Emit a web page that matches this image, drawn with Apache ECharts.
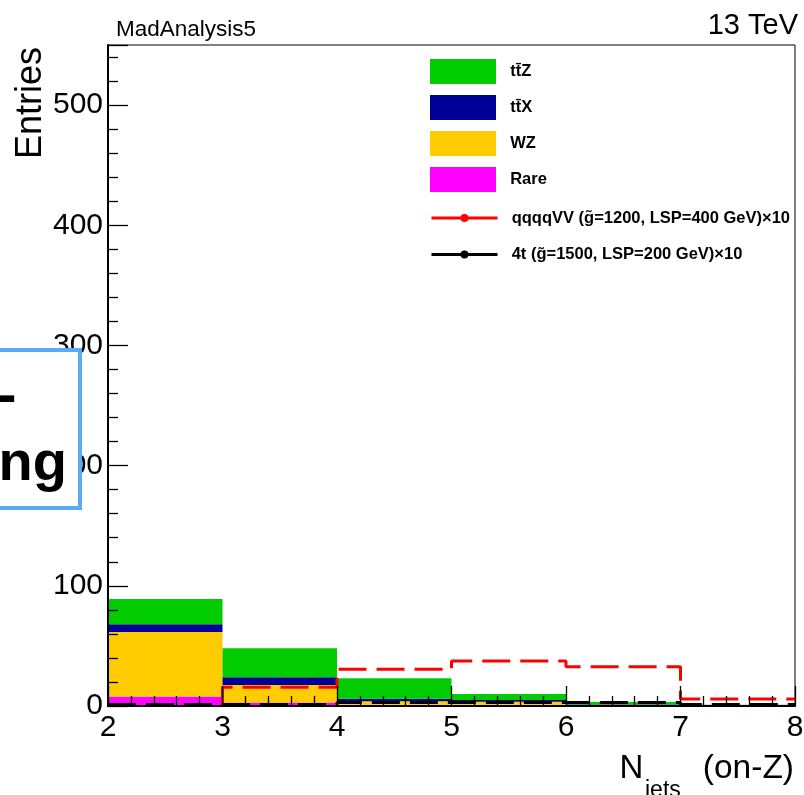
<!DOCTYPE html>
<html>
<head>
<meta charset="utf-8">
<script src="https://cdn.jsdelivr.net/npm/echarts@6/dist/echarts.min.js"></script>
<style>
  html, body { margin: 0; padding: 0; background: #fff; }
  #chart { width: 804px; height: 795px; }
</style>
</head>
<body>
<div id="chart"></div>
<script>
// bin edges of the N_jets histogram
const binEdges = [2, 3, 4, 5, 6, 7, 8];

// backgrounds (stacked, bottom to top)
const rare = [8, 3, 1, 1, 0.3, 0.1];
const wz = [53.5, 14.5, 3, 2.5, 0.7, 0.2];
const ttx = [6.5, 6.5, 2, 1.5, 0.5, 0.2];
const ttz = [21, 24, 17, 5, 1.8, 0.5];

// signals (x10)
const qqqqvv = [1, 15.5, 30.5, 37.4, 32.7, 5.8];
const fourTop = [1.2, 1.2, 3, 3, 3, 1.3];

const yTicks = [0, 100, 200, 300, 400, 500];

const FONT = "'Liberation Sans', Arial, Helvetica, sans-serif";

const names = {
  ttz: "tt\u0304Z",
  ttx: "tt\u0304X",
  wz: "WZ",
  rare: "Rare",
  sig1: "qqqqVV (g\u0303=1200, LSP=400 GeV)\u00d710",
  sig2: "4t (g\u0303=1500, LSP=200 GeV)\u00d710"
};

function addArr(a, b) {
  return a.map((v, i) => v + b[i]);
}

const topRare = rare;
const topWz = addArr(topRare, wz);
const topTtx = addArr(topWz, ttx);
const topTtz = addArr(topTtx, ttz);

function histSeries(name, color, lower, upper) {
  const data = upper.map((u, i) => [binEdges[i], binEdges[i + 1], lower[i], u]);
  return {
    name: name,
    type: "custom",
    z: 2,
    itemStyle: { color: color },
    encode: { x: [0, 1], y: [2, 3] },
    renderItem: function (params, api) {
      const p0 = api.coord([api.value(0), api.value(2)]);
      const p1 = api.coord([api.value(1), api.value(3)]);
      return {
        type: "rect",
        shape: { x: p0[0], y: p1[1], width: p1[0] - p0[0], height: p0[1] - p1[1] },
        style: { fill: color }
      };
    },
    data: data
  };
}

function stepData(vals) {
  const d = vals.map((v, i) => [binEdges[i], v]);
  d.push([binEdges[binEdges.length - 1], vals[vals.length - 1]]);
  return d;
}

function stepSeries(name, color, vals) {
  return {
    name: name,
    type: "line",
    step: "end",
    z: 5,
    symbol: "circle",
    showSymbol: false,
    lineStyle: { color: color, width: 3, type: [28, 10] },
    itemStyle: { color: color },
    data: stepData(vals)
  };
}

const chart = echarts.init(document.getElementById("chart"));

chart.setOption({
  animation: false,
  backgroundColor: "#fff",
  title: [
    {
      text: "MadAnalysis5",
      left: 116,
      top: 18,
      padding: 0,
      textStyle: { fontFamily: FONT, fontSize: 22.5, fontWeight: "normal", color: "#000" }
    },
    {
      text: "13 TeV",
      right: 6,
      top: 11,
      padding: 0,
      textStyle: { fontFamily: FONT, fontSize: 29, fontWeight: "normal", color: "#000" }
    }
  ],
  grid: {
    left: 108,
    right: 9,
    top: 45,
    bottom: 89,
    show: true,
    borderColor: "#000",
    borderWidth: 1,
    outerBoundsMode: "none"
  },
  legend: [
    {
      orient: "vertical",
      left: 430,
      top: 59,
      padding: 0,
      itemWidth: 66,
      itemHeight: 25,
      itemGap: 11,
      icon: "rect",
      selectedMode: false,
      formatter: (n) => "  " + n,
      textStyle: { fontFamily: FONT, fontSize: 16.5, fontWeight: "bold", color: "#000" },
      data: [names.ttz, names.ttx, names.wz, names.rare]
    },
    {
      orient: "vertical",
      left: 430,
      top: 209.5,
      padding: 0,
      itemWidth: 66,
      itemHeight: 10,
      itemGap: 19.5,
      selectedMode: false,
      lineStyle: { type: "solid", width: 3 },
      formatter: (n) => "  " + n,
      textStyle: { fontFamily: FONT, fontSize: 16.5, fontWeight: "bold", color: "#000" },
      data: [names.sig1, names.sig2]
    }
  ],
  xAxis: {
    type: "value",
    min: 2,
    max: 8,
    interval: 1,
    z: 10,
    axisLine: { lineStyle: { color: "#000", width: 2 } },
    axisTick: { inside: true, length: 20, lineStyle: { color: "#000", width: 1.3 } },
    minorTick: { show: true, splitNumber: 5, length: 10, lineStyle: { color: "#000", width: 1.3 } },
    splitLine: { show: false },
    axisLabel: { color: "#000", fontFamily: FONT, fontSize: 30, margin: 7 }
  },
  yAxis: {
    type: "value",
    min: 0,
    max: 550,
    interval: 100,
    z: 10,
    axisLine: { show: true, lineStyle: { color: "#000", width: 2 } },
    axisTick: { inside: true, length: 20, lineStyle: { color: "#000", width: 1.3 } },
    minorTick: { show: true, splitNumber: 5, length: 10, lineStyle: { color: "#000", width: 1.3 } },
    splitLine: { show: false },
    axisLabel: {
      color: "#000",
      fontFamily: FONT,
      fontSize: 30,
      margin: 5,
      showMaxLabel: false,
      formatter: (v) => (yTicks.indexOf(v) >= 0 ? String(v) : "")
    }
  },
  graphic: [
    {
      type: "text",
      x: 31,
      y: 47,
      rotation: Math.PI / 2,
      z: 100,
      style: { text: "Entries", fontFamily: FONT, fontSize: 36, fill: "#000", align: "right", verticalAlign: "middle" }
    },
    {
      type: "text",
      x: 619.6,
      y: 769,
      z: 100,
      style: { text: "N", fontFamily: FONT, fontSize: 33, fill: "#000", align: "left", verticalAlign: "middle" }
    },
    {
      type: "text",
      x: 645,
      y: 791,
      z: 100,
      style: { text: "jets", fontFamily: FONT, fontSize: 23, fill: "#000", align: "left", verticalAlign: "middle" }
    },
    {
      type: "text",
      x: 794,
      y: 769,
      z: 100,
      style: { text: "(on-Z)", fontFamily: FONT, fontSize: 33.5, fill: "#000", align: "right", verticalAlign: "middle" }
    },
    {
      type: "rect",
      z: 200,
      shape: { x: -20, y: 350, width: 100, height: 158 },
      style: { fill: "#fff", stroke: "#5aaaf5", lineWidth: 4 }
    },
    {
      type: "text",
      x: 67,
      y: 464.6,
      z: 201,
      style: { text: "ng", fontFamily: FONT, fontSize: 56, fontWeight: "bold", fill: "#000", align: "right", verticalAlign: "middle" }
    },
    {
      type: "text",
      x: 16.5,
      y: 398,
      z: 201,
      style: { text: "-", fontFamily: FONT, fontSize: 56, fontWeight: "bold", fill: "#000", align: "right", verticalAlign: "middle" }
    }
  ],
  series: [
    histSeries(names.rare, "#ff00ff", [0, 0, 0, 0, 0, 0], topRare),
    histSeries(names.wz, "#ffcc00", topRare, topWz),
    histSeries(names.ttx, "#000099", topWz, topTtx),
    histSeries(names.ttz, "#00cc00", topTtx, topTtz),
    stepSeries(names.sig1, "#ff0000", qqqqvv),
    stepSeries(names.sig2, "#000000", fourTop)
  ]
});
</script>
</body>
</html>
